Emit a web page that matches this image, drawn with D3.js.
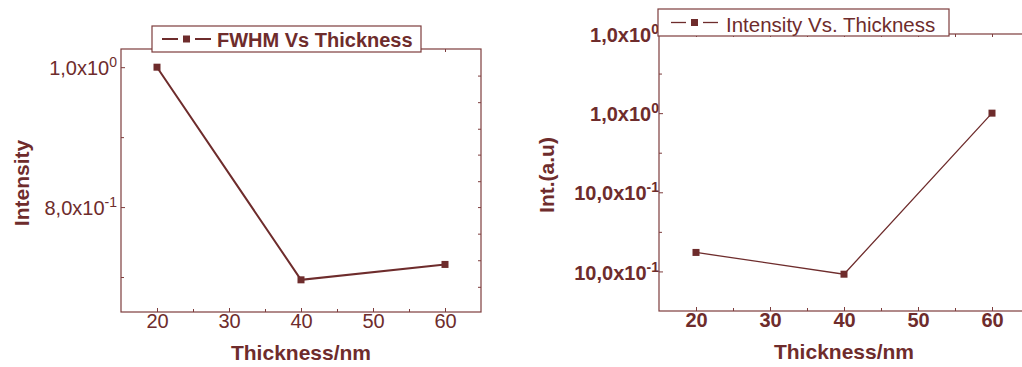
<!DOCTYPE html>
<html>
<head>
<meta charset="utf-8">
<script src="https://cdn.jsdelivr.net/npm/d3@7/dist/d3.min.js"></script>
<style>
  html, body { margin: 0; padding: 0; background: #fff; }
  svg { display: block; font-family: "Liberation Sans", Arial, sans-serif; }
</style>
</head>
<body>
<svg id="chart" width="1022" height="367"></svg>
<script>
// ---------- data ----------
const thickness = [20, 40, 60];

// left panel: FWHM Vs Thickness
const fwhmValues = [1.0, 0.696, 0.718];
const leftYTicks = [0.8, 1.0];
const leftYTickMain = ["8,0x10", "1,0x10"];
const leftYTickSup = ["-1", "0"];
const leftYMinor = [0.7, 0.9];
const leftRightTicks = [0.686, 0.724, 0.762, 0.800, 0.837, 0.875, 0.912, 0.950, 0.988];

// right panel: Intensity Vs. Thickness (axis positions in axis units)
const intensityValues = [0.24, -0.035, 2.0];
const rightYTicks = [0, 1, 2, 3];
const rightYTickMain = ["10,0x10", "10,0x10", "1,0x10", "1,0x10"];
const rightYTickSup = ["-1", "-1", "0", "0"];
const rightYMinor = [0.5, 1.5, 2.5];

const xTicks = [20, 30, 40, 50, 60];
const xMinor = [25, 35, 45, 55];

const INK = "#6e2c2c";
const FRAME = "#7d3d3d";
const FONT = "'Liberation Sans', Arial, sans-serif";

const svg = d3.select("#chart");

function panel(cfg) {
  const x = d3.scaleLinear().domain([15, 65]).range([cfg.x0, cfg.x1]);
  const y = d3.scaleLinear().domain(cfg.yDomain).range([cfg.y1, cfg.y0]);
  const g = svg.append("g");

  // frame
  g.append("rect")
    .attr("x", cfg.x0).attr("y", cfg.y0)
    .attr("width", cfg.x1 - cfg.x0).attr("height", cfg.y1 - cfg.y0)
    .attr("fill", "none").attr("stroke", FRAME).attr("stroke-width", 1.2);

  const styleAxis = sel => {
    sel.select(".domain").remove();
    sel.selectAll(".tick line").attr("stroke", FRAME).attr("stroke-width", 1);
  };

  // bottom axis major
  const xb = g.append("g").attr("transform", `translate(0,${cfg.y1})`)
    .call(d3.axisBottom(x).tickValues(xTicks).tickSizeInner(-4).tickSizeOuter(0).tickPadding(2).tickFormat(d3.format("d")));
  styleAxis(xb);
  xb.selectAll(".tick text").attr("fill", INK).attr("font-size", cfg.tickFont)
    .attr("font-weight", cfg.tickWeight).attr("font-family", FONT);
  // bottom minor
  const xbm = g.append("g").attr("transform", `translate(0,${cfg.y1})`)
    .call(d3.axisBottom(x).tickValues(xMinor).tickSizeInner(-3).tickSizeOuter(0).tickFormat(""));
  styleAxis(xbm);
  // top ticks
  const xt = g.append("g").attr("transform", `translate(0,${cfg.y0})`)
    .call(d3.axisTop(x).tickValues(xTicks.concat(xMinor)).tickSizeInner(-3).tickSizeOuter(0).tickFormat(""));
  styleAxis(xt);

  // left axis major
  const yl = g.append("g").attr("transform", `translate(${cfg.x0},0)`)
    .call(d3.axisLeft(y).tickValues(cfg.yTicks).tickSizeInner(-4).tickSizeOuter(0).tickPadding(cfg.yPad));
  styleAxis(yl);
  yl.selectAll(".tick text").each(function(d) {
    const i = cfg.yTicks.indexOf(d);
    const t = d3.select(this);
    t.text(null).attr("fill", INK).attr("font-size", cfg.tickFont)
      .attr("font-weight", cfg.tickWeight).attr("dy", "0.38em")
      .attr("font-family", FONT);
    t.append("tspan").text(cfg.yMain[i]);
    t.append("tspan").attr("dy", -8).attr("font-size", 14).text(cfg.ySup[i]);
  });
  const ylm = g.append("g").attr("transform", `translate(${cfg.x0},0)`)
    .call(d3.axisLeft(y).tickValues(cfg.yMinor).tickSizeInner(-3).tickSizeOuter(0).tickFormat(""));
  styleAxis(ylm);

  if (cfg.rightTicks) {
    const yr = g.append("g").attr("transform", `translate(${cfg.x1},0)`)
      .call(d3.axisRight(y).tickValues(cfg.rightTicks).tickSizeInner(-3).tickSizeOuter(0).tickFormat(""));
    styleAxis(yr);
  }

  // data line
  const pts = thickness.map((t, i) => [t, cfg.values[i]]);
  g.append("path")
    .datum(pts)
    .attr("fill", "none").attr("stroke", INK).attr("stroke-width", cfg.lineW)
    .attr("d", d3.line().x(d => x(d[0])).y(d => y(d[1])));
  g.selectAll("rect.pt").data(pts).enter().append("rect")
    .attr("class", "pt")
    .attr("x", d => x(d[0]) - 3.5).attr("y", d => y(d[1]) - 3.5)
    .attr("width", 7).attr("height", 7).attr("fill", INK);

  // axis titles
  g.append("text")
    .attr("x", (x(20) + x(60)) / 2 + cfg.xTitleDx).attr("y", cfg.xTitleY)
    .attr("text-anchor", "middle").attr("font-size", 21).attr("font-weight", "bold")
    .attr("fill", INK).text("Thickness/nm");
  g.append("text")
    .attr("transform", `translate(${cfg.yTitleX},${cfg.yTitleY}) rotate(-90)`)
    .attr("text-anchor", "middle").attr("font-size", 21).attr("font-weight", "bold")
    .attr("fill", INK).text(cfg.yTitle);

  // legend
  const L = cfg.legend;
  g.append("rect").attr("x", L.x).attr("y", L.y).attr("width", L.w).attr("height", L.h)
    .attr("fill", "#fff").attr("stroke", FRAME).attr("stroke-width", 1.2);
  const ly = L.y + L.h / 2;
  g.append("line").attr("x1", L.sx).attr("x2", L.sx + L.seg).attr("y1", ly).attr("y2", ly)
    .attr("stroke", INK).attr("stroke-width", cfg.lineW);
  g.append("rect").attr("x", L.sx + L.seg + L.gap).attr("y", ly - 3.5).attr("width", 7).attr("height", 7).attr("fill", INK);
  g.append("line").attr("x1", L.sx + L.seg + 2 * L.gap + 7).attr("x2", L.sx + 2 * L.seg + 2 * L.gap + 7)
    .attr("y1", ly).attr("y2", ly).attr("stroke", INK).attr("stroke-width", cfg.lineW);
  g.append("text").attr("x", L.tx).attr("y", L.ty)
    .attr("font-size", L.size).attr("font-weight", L.weight).attr("fill", INK).text(L.text);
}

panel({
  x0: 121, x1: 481, y0: 49, y1: 312,
  yDomain: [0.65, 1.026],
  values: fwhmValues,
  yTicks: leftYTicks, yMain: leftYTickMain, ySup: leftYTickSup, yMinor: leftYMinor,
  rightTicks: leftRightTicks,
  tickFont: 20, tickWeight: "normal", yPad: 4,
  lineW: 2,
  xTitleY: 360, xTitleDx: 0,
  yTitle: "Intensity", yTitleX: 29, yTitleY: 183,
  legend: { x: 152, y: 26, w: 269, h: 26, sx: 162, seg: 16, gap: 5, tx: 217, ty: 46.5, size: 20,
            weight: "bold", text: "FWHM Vs Thickness" }
});

panel({
  x0: 659, x1: 1029, y0: 34, y1: 311,
  yDomain: [-0.5, 3],
  values: intensityValues,
  yTicks: rightYTicks, yMain: rightYTickMain, ySup: rightYTickSup, yMinor: rightYMinor,
  rightTicks: null,
  tickFont: 20, tickWeight: "bold", yPad: 0,
  lineW: 1.3,
  xTitleY: 359, xTitleDx: 0,
  yTitle: "Int.(a.u)", yTitleX: 554, yTitleY: 175,
  legend: { x: 658, y: 9, w: 291, h: 27, sx: 671, seg: 15, gap: 5, tx: 726, ty: 31.5, size: 20.5,
            weight: "normal", text: "Intensity Vs. Thickness" }
});
</script>
</body>
</html>
